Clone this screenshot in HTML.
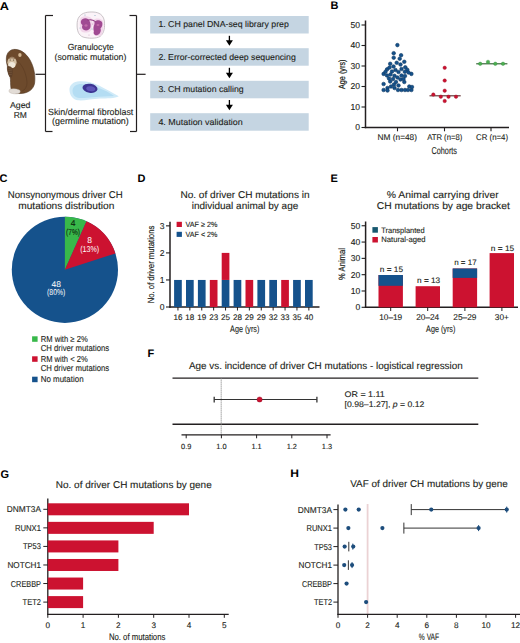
<!DOCTYPE html>
<html><head><meta charset="utf-8"><style>
html,body{margin:0;padding:0;background:#fff;}
body{width:520px;height:643px;overflow:hidden;}
svg{display:block;font-family:"Liberation Sans", sans-serif;text-rendering:geometricPrecision;}
</style></head><body>
<svg width="520" height="643" viewBox="0 0 520 643">
<rect width="520" height="643" fill="#fff"/>
<text x="-0.30" y="9.50" font-size="11.3" text-anchor="start" font-weight="bold" fill="#000" textLength="9.20" lengthAdjust="spacingAndGlyphs">A</text>
<line x1="45.50" y1="15.50" x2="45.50" y2="131.50" stroke="#231f20" stroke-width="1.2"/>
<line x1="45.50" y1="15.50" x2="53.00" y2="15.50" stroke="#231f20" stroke-width="1.2"/>
<line x1="45.50" y1="131.50" x2="52.50" y2="131.50" stroke="#231f20" stroke-width="1.2"/>
<line x1="136.50" y1="15.50" x2="136.50" y2="131.50" stroke="#231f20" stroke-width="1.2"/>
<line x1="129.50" y1="15.50" x2="136.50" y2="15.50" stroke="#231f20" stroke-width="1.2"/>
<line x1="130.00" y1="131.50" x2="136.50" y2="131.50" stroke="#231f20" stroke-width="1.2"/>
<line x1="35.50" y1="74.30" x2="45.50" y2="74.30" stroke="#231f20" stroke-width="1.2"/>
<line x1="136.50" y1="74.30" x2="145.60" y2="74.30" stroke="#231f20" stroke-width="1.2"/>
<g>
<path d="M13.7,49.4 C20,49 26,53 30,60 C34,67 35.6,76 34.6,83 C33.6,89 29,93 21,93.5 C16,93.8 12,92.5 11,88.5 C10.3,84 10.8,80 10.2,77.5 C8.3,74.5 7,70 7.4,66 C6.2,62.5 6,58.5 6.8,55.3 C8,51.5 10.5,49.8 13.7,49.4 Z" fill="#6d4a2c" stroke="#4e3420" stroke-width="0.6"/>
<path d="M16,60 C22,64 26,72 27,82 C27,87 25,90 22,91" fill="none" stroke="#5a3b22" stroke-width="0.6"/>
<ellipse cx="12" cy="62.3" rx="4.6" ry="5.5" fill="#d3bfa3"/>
<ellipse cx="11.8" cy="65" rx="3.4" ry="2.9" fill="#f0e8da"/>
<path d="M8.5,58.5 C10,57.5 14,57.5 15.6,58.7" stroke="#6d4a2c" stroke-width="0.8" fill="none"/>
<circle cx="10.2" cy="60" r="0.5" fill="#3a2a1a"/><circle cx="13.6" cy="60" r="0.5" fill="#3a2a1a"/>
<ellipse cx="19.9" cy="55" rx="1.7" ry="2.1" fill="#d3b894"/>
<path d="M7.6,66.5 C9.5,65.5 12,66.5 12.6,69.5 C13,72.5 12.6,76 11.4,77.5 C9.8,77.8 8.6,75 8,72 C7.5,70 7.2,68 7.6,66.5 Z" fill="#5e4029"/>
<path d="M8.5,68.5 L11.8,68 M8.4,70.5 L12,70 M8.6,72.5 L12,72.2 M9,74.5 L11.8,74.3" stroke="#8a6a4c" stroke-width="0.4"/>
<path d="M9.5,89.5 C12,88.2 16,88.5 19.5,90 C21,91.5 20,93.6 17,93.8 C14,94 11,93.5 9.6,92.4 C8.8,91.5 8.9,90.3 9.5,89.5 Z" fill="#e2dcd6" stroke="#b8aea4" stroke-width="0.4"/>
</g>
<text x="20.20" y="108.20" font-size="8.5" text-anchor="middle" fill="#231f20" textLength="20.50" lengthAdjust="spacingAndGlyphs" stroke="#231f20" stroke-width="0.12">Aged</text>
<text x="20.30" y="118.20" font-size="8.5" text-anchor="middle" fill="#231f20" textLength="13.20" lengthAdjust="spacingAndGlyphs" stroke="#231f20" stroke-width="0.12">RM</text>
<g>
<path d="M79,17 C82,12.5 88,11.8 93,12 C99,12.2 103.5,15 104.3,21 C105,27 104.5,33 100,36.5 C96,38.8 88,38.6 83,37 C78.5,35.2 77,30.5 77.1,25 C77.1,21.5 77.6,19 79,17 Z" fill="#fbf3f8" stroke="#bcb5ba" stroke-width="0.8"/>
<path d="M80.5,18 C83,15.5 90,15.5 92,19 C93,23 92,28 90.5,31 C88,33 83,33 81,31 C79.5,28 79.5,22 80.5,18 Z" fill="#f2d6ea"/>
<path d="M93,20 C96,17.5 101,18 103,21 C104,25 103.5,31 101.5,35 C99,37 95,36.5 93.5,34 C92.5,30 92.5,24 93,20 Z" fill="#f2d6ea"/>
<path d="M81,21 C82,18 86,17.5 88,19 C90,20.5 91,24 90.5,27 C90,30 86.5,31 84,30 C82,29 81.5,27 82.5,25 C81,24 80.5,22.5 81,21 Z" fill="#a04a92"/>
<path d="M94.5,22 C96,19.5 100,19.5 102,22 C103,24.5 102,27 100.5,28.5 C101.5,31 100,34.5 97,35.2 C94.5,35.5 93,33.5 94,31.5 C93,29 93.5,26 94.5,24 Z" fill="#a04a92"/>
<path d="M87.5,20.2 C90,19.4 93,19.8 95.5,21.6" fill="none" stroke="#8e3a80" stroke-width="1.1"/>
<ellipse cx="86" cy="25.5" rx="1.6" ry="1.2" fill="#c06aa8"/>
<ellipse cx="98" cy="25" rx="1.5" ry="1.1" fill="#c06aa8"/>
<circle cx="85" cy="15" r="0.6" fill="#8fb3c8"/><circle cx="95" cy="15.5" r="0.6" fill="#8fb3c8"/>
<circle cx="92" cy="29" r="0.6" fill="#8fb3c8"/><circle cx="80" cy="28" r="0.5" fill="#8fb3c8"/>
<circle cx="89" cy="35" r="0.5" fill="#c9a0bf"/><circle cx="92.5" cy="24" r="0.5" fill="#c9a0bf"/>
</g>
<text x="67.70" y="49.90" font-size="9.0" text-anchor="start" fill="#231f20" textLength="46.10" lengthAdjust="spacingAndGlyphs" stroke="#231f20" stroke-width="0.12">Granulocyte</text>
<text x="54.50" y="59.50" font-size="9.0" text-anchor="start" fill="#231f20" textLength="71.80" lengthAdjust="spacingAndGlyphs" stroke="#231f20" stroke-width="0.12">(somatic mutation)</text>
<g>
<path d="M69.5,90.5 C69,85 73.5,81.5 79.5,81.2 C87,81 93,82.5 99,85.5 C106,89 112,92.5 118.8,96.2 C115,98.5 107,98.3 100,98.5 C92,99 84,100.8 78,100.3 C73,99.8 69.8,95.5 69.5,90.5 Z" fill="#cfeaf8"/>
<path d="M72.5,91 C72.5,86.5 76.5,84 81.5,84 C89,84 96,86.5 103,89.8 C108,92 111.5,94 114,96 C108,96.5 100,96.6 93.5,97.2 C86.5,97.8 80,98.3 77,97.4 C74,96.4 72.5,94 72.5,91 Z" fill="#b4ddf3"/>
<ellipse cx="90" cy="88.3" rx="7.6" ry="4.5" fill="#3d3593" transform="rotate(10 90 88.3)"/>
<ellipse cx="90.8" cy="88.6" rx="4.6" ry="2.4" fill="#5e56b8" transform="rotate(10 90 88.3)"/>
</g>
<text x="48.00" y="115.40" font-size="9.0" text-anchor="start" fill="#231f20" textLength="85.30" lengthAdjust="spacingAndGlyphs" stroke="#231f20" stroke-width="0.12">Skin/dermal fibroblast</text>
<text x="52.00" y="124.30" font-size="9.0" text-anchor="start" fill="#231f20" textLength="76.80" lengthAdjust="spacingAndGlyphs" stroke="#231f20" stroke-width="0.12">(germline mutation)</text>
<rect x="150.20" y="16.00" width="158.50" height="17.50" fill="#c5d5e2"/>
<text x="158.40" y="27.30" font-size="8.6" text-anchor="start" fill="#231f20" textLength="130.40" lengthAdjust="spacingAndGlyphs" stroke="#231f20" stroke-width="0.12">1. CH panel DNA-seq library prep</text>
<rect x="150.20" y="48.20" width="158.50" height="17.50" fill="#c5d5e2"/>
<text x="158.40" y="59.50" font-size="8.6" text-anchor="start" fill="#231f20" textLength="137.40" lengthAdjust="spacingAndGlyphs" stroke="#231f20" stroke-width="0.12">2. Error-corrected deep sequencing</text>
<rect x="150.20" y="80.80" width="158.50" height="17.50" fill="#c5d5e2"/>
<text x="158.40" y="92.10" font-size="8.6" text-anchor="start" fill="#231f20" textLength="85.20" lengthAdjust="spacingAndGlyphs" stroke="#231f20" stroke-width="0.12">3. CH mutation calling</text>
<rect x="150.20" y="113.20" width="158.50" height="17.50" fill="#c5d5e2"/>
<text x="158.40" y="124.50" font-size="8.6" text-anchor="start" fill="#231f20" textLength="84.40" lengthAdjust="spacingAndGlyphs" stroke="#231f20" stroke-width="0.12">4. Mutation validation</text>
<line x1="229.40" y1="35.80" x2="229.40" y2="41.70" stroke="#000" stroke-width="1.3"/>
<path d="M225.9,40.20 L232.9,40.20 L229.4,45.70 Z" fill="#000"/>
<line x1="229.40" y1="67.80" x2="229.40" y2="74.20" stroke="#000" stroke-width="1.3"/>
<path d="M225.9,72.70 L232.9,72.70 L229.4,78.20 Z" fill="#000"/>
<line x1="229.40" y1="100.00" x2="229.40" y2="106.30" stroke="#000" stroke-width="1.3"/>
<path d="M225.9,104.80 L232.9,104.80 L229.4,110.30 Z" fill="#000"/>
<text x="330.40" y="9.30" font-size="11" text-anchor="start" font-weight="bold" fill="#000">B</text>
<line x1="365.50" y1="20.50" x2="365.50" y2="128.20" stroke="#231f20" stroke-width="1.5"/>
<line x1="364.80" y1="127.50" x2="509.00" y2="127.50" stroke="#231f20" stroke-width="1.5"/>
<line x1="361.50" y1="127.50" x2="365.50" y2="127.50" stroke="#231f20" stroke-width="1.1"/>
<text x="360.00" y="130.40" font-size="8.6" text-anchor="end" fill="#231f20" stroke="#231f20" stroke-width="0.12">0</text>
<line x1="361.50" y1="107.00" x2="365.50" y2="107.00" stroke="#231f20" stroke-width="1.1"/>
<text x="360.00" y="109.90" font-size="8.6" text-anchor="end" fill="#231f20" stroke="#231f20" stroke-width="0.12">10</text>
<line x1="361.50" y1="86.50" x2="365.50" y2="86.50" stroke="#231f20" stroke-width="1.1"/>
<text x="360.00" y="89.40" font-size="8.6" text-anchor="end" fill="#231f20" stroke="#231f20" stroke-width="0.12">20</text>
<line x1="361.50" y1="66.00" x2="365.50" y2="66.00" stroke="#231f20" stroke-width="1.1"/>
<text x="360.00" y="68.90" font-size="8.6" text-anchor="end" fill="#231f20" stroke="#231f20" stroke-width="0.12">30</text>
<line x1="361.50" y1="45.50" x2="365.50" y2="45.50" stroke="#231f20" stroke-width="1.1"/>
<text x="360.00" y="48.40" font-size="8.6" text-anchor="end" fill="#231f20" stroke="#231f20" stroke-width="0.12">40</text>
<line x1="361.50" y1="25.00" x2="365.50" y2="25.00" stroke="#231f20" stroke-width="1.1"/>
<text x="360.00" y="27.90" font-size="8.6" text-anchor="end" fill="#231f20" stroke="#231f20" stroke-width="0.12">50</text>
<line x1="397.50" y1="127.50" x2="397.50" y2="131.30" stroke="#231f20" stroke-width="1.1"/>
<line x1="444.50" y1="127.50" x2="444.50" y2="131.30" stroke="#231f20" stroke-width="1.1"/>
<line x1="491.00" y1="127.50" x2="491.00" y2="131.30" stroke="#231f20" stroke-width="1.1"/>
<text x="377.50" y="140.10" font-size="8.4" text-anchor="start" fill="#231f20" textLength="39.50" lengthAdjust="spacingAndGlyphs" stroke="#231f20" stroke-width="0.12">NM (n=48)</text>
<text x="427.20" y="140.10" font-size="8.4" text-anchor="start" fill="#231f20" textLength="35.10" lengthAdjust="spacingAndGlyphs" stroke="#231f20" stroke-width="0.12">ATR (n=8)</text>
<text x="476.10" y="140.10" font-size="8.4" text-anchor="start" fill="#231f20" textLength="31.90" lengthAdjust="spacingAndGlyphs" stroke="#231f20" stroke-width="0.12">CR (n=4)</text>
<text x="431.50" y="153.60" font-size="10" text-anchor="start" fill="#231f20" textLength="25.50" lengthAdjust="spacingAndGlyphs" stroke="#231f20" stroke-width="0.12">Cohorts</text>
<text transform="translate(344.8,74.3) rotate(-90)" font-size="9" stroke="#231f20" stroke-width="0.25" text-anchor="middle" fill="#231f20" textLength="29.5" lengthAdjust="spacingAndGlyphs">Age (yrs)</text>
<circle cx="397.40" cy="45.10" r="1.80" fill="#15528c" stroke="#0e3762" stroke-width="0.6"/>
<circle cx="393.70" cy="53.20" r="1.80" fill="#15528c" stroke="#0e3762" stroke-width="0.6"/>
<circle cx="401.10" cy="55.20" r="1.80" fill="#15528c" stroke="#0e3762" stroke-width="0.6"/>
<circle cx="393.70" cy="57.70" r="1.80" fill="#15528c" stroke="#0e3762" stroke-width="0.6"/>
<circle cx="399.70" cy="58.70" r="1.80" fill="#15528c" stroke="#0e3762" stroke-width="0.6"/>
<circle cx="404.30" cy="61.80" r="1.80" fill="#15528c" stroke="#0e3762" stroke-width="0.6"/>
<circle cx="390.20" cy="63.80" r="1.80" fill="#15528c" stroke="#0e3762" stroke-width="0.6"/>
<circle cx="396.70" cy="62.80" r="1.80" fill="#15528c" stroke="#0e3762" stroke-width="0.6"/>
<circle cx="387.10" cy="69.30" r="1.80" fill="#15528c" stroke="#0e3762" stroke-width="0.6"/>
<circle cx="405.30" cy="67.30" r="1.80" fill="#15528c" stroke="#0e3762" stroke-width="0.6"/>
<circle cx="407.30" cy="69.80" r="1.80" fill="#15528c" stroke="#0e3762" stroke-width="0.6"/>
<circle cx="383.60" cy="73.90" r="1.80" fill="#15528c" stroke="#0e3762" stroke-width="0.6"/>
<circle cx="411.40" cy="73.90" r="1.80" fill="#15528c" stroke="#0e3762" stroke-width="0.6"/>
<circle cx="383.60" cy="84.00" r="1.80" fill="#15528c" stroke="#0e3762" stroke-width="0.6"/>
<circle cx="390.20" cy="81.50" r="1.80" fill="#15528c" stroke="#0e3762" stroke-width="0.6"/>
<circle cx="404.30" cy="82.00" r="1.80" fill="#15528c" stroke="#0e3762" stroke-width="0.6"/>
<circle cx="383.60" cy="90.00" r="1.80" fill="#15528c" stroke="#0e3762" stroke-width="0.6"/>
<circle cx="409.30" cy="86.50" r="1.80" fill="#15528c" stroke="#0e3762" stroke-width="0.6"/>
<circle cx="411.40" cy="90.00" r="1.80" fill="#15528c" stroke="#0e3762" stroke-width="0.6"/>
<circle cx="400.50" cy="64.50" r="1.80" fill="#15528c" stroke="#0e3762" stroke-width="0.6"/>
<circle cx="393.50" cy="66.50" r="1.80" fill="#15528c" stroke="#0e3762" stroke-width="0.6"/>
<circle cx="389.50" cy="67.50" r="1.80" fill="#15528c" stroke="#0e3762" stroke-width="0.6"/>
<circle cx="401.50" cy="69.00" r="1.80" fill="#15528c" stroke="#0e3762" stroke-width="0.6"/>
<circle cx="385.50" cy="71.80" r="1.80" fill="#15528c" stroke="#0e3762" stroke-width="0.6"/>
<circle cx="392.00" cy="71.50" r="1.80" fill="#15528c" stroke="#0e3762" stroke-width="0.6"/>
<circle cx="395.50" cy="70.00" r="1.80" fill="#15528c" stroke="#0e3762" stroke-width="0.6"/>
<circle cx="398.50" cy="72.00" r="1.80" fill="#15528c" stroke="#0e3762" stroke-width="0.6"/>
<circle cx="404.80" cy="71.80" r="1.80" fill="#15528c" stroke="#0e3762" stroke-width="0.6"/>
<circle cx="408.50" cy="72.50" r="1.80" fill="#15528c" stroke="#0e3762" stroke-width="0.6"/>
<circle cx="387.00" cy="75.50" r="1.80" fill="#15528c" stroke="#0e3762" stroke-width="0.6"/>
<circle cx="390.50" cy="74.50" r="1.80" fill="#15528c" stroke="#0e3762" stroke-width="0.6"/>
<circle cx="394.50" cy="75.80" r="1.80" fill="#15528c" stroke="#0e3762" stroke-width="0.6"/>
<circle cx="401.50" cy="75.50" r="1.80" fill="#15528c" stroke="#0e3762" stroke-width="0.6"/>
<circle cx="405.00" cy="76.00" r="1.80" fill="#15528c" stroke="#0e3762" stroke-width="0.6"/>
<circle cx="389.00" cy="78.50" r="1.80" fill="#15528c" stroke="#0e3762" stroke-width="0.6"/>
<circle cx="393.00" cy="79.00" r="1.80" fill="#15528c" stroke="#0e3762" stroke-width="0.6"/>
<circle cx="397.50" cy="77.50" r="1.80" fill="#15528c" stroke="#0e3762" stroke-width="0.6"/>
<circle cx="400.50" cy="79.50" r="1.80" fill="#15528c" stroke="#0e3762" stroke-width="0.6"/>
<circle cx="403.50" cy="79.00" r="1.80" fill="#15528c" stroke="#0e3762" stroke-width="0.6"/>
<circle cx="396.00" cy="82.00" r="1.80" fill="#15528c" stroke="#0e3762" stroke-width="0.6"/>
<circle cx="387.50" cy="88.00" r="1.80" fill="#15528c" stroke="#0e3762" stroke-width="0.6"/>
<circle cx="391.00" cy="86.50" r="1.80" fill="#15528c" stroke="#0e3762" stroke-width="0.6"/>
<circle cx="394.50" cy="88.00" r="1.80" fill="#15528c" stroke="#0e3762" stroke-width="0.6"/>
<circle cx="398.00" cy="90.00" r="1.80" fill="#15528c" stroke="#0e3762" stroke-width="0.6"/>
<circle cx="401.50" cy="90.00" r="1.80" fill="#15528c" stroke="#0e3762" stroke-width="0.6"/>
<circle cx="405.00" cy="90.00" r="1.80" fill="#15528c" stroke="#0e3762" stroke-width="0.6"/>
<circle cx="408.00" cy="90.00" r="1.80" fill="#15528c" stroke="#0e3762" stroke-width="0.6"/>
<circle cx="387.50" cy="90.50" r="1.80" fill="#15528c" stroke="#0e3762" stroke-width="0.6"/>
<circle cx="394.00" cy="84.50" r="1.80" fill="#15528c" stroke="#0e3762" stroke-width="0.6"/>
<circle cx="398.50" cy="85.50" r="1.80" fill="#15528c" stroke="#0e3762" stroke-width="0.6"/>
<circle cx="412.00" cy="87.00" r="1.80" fill="#15528c" stroke="#0e3762" stroke-width="0.6"/>
<line x1="429.50" y1="95.80" x2="460.70" y2="95.80" stroke="#5a2a2a" stroke-width="1.1"/>
<circle cx="444.70" cy="67.80" r="1.75" fill="#cc1230" stroke="#9a0c24" stroke-width="0.4"/>
<circle cx="444.70" cy="80.60" r="1.75" fill="#cc1230" stroke="#9a0c24" stroke-width="0.4"/>
<circle cx="444.70" cy="90.70" r="1.75" fill="#cc1230" stroke="#9a0c24" stroke-width="0.4"/>
<circle cx="433.30" cy="94.60" r="1.75" fill="#cc1230" stroke="#9a0c24" stroke-width="0.4"/>
<circle cx="440.80" cy="96.70" r="1.75" fill="#cc1230" stroke="#9a0c24" stroke-width="0.4"/>
<circle cx="448.50" cy="96.70" r="1.75" fill="#cc1230" stroke="#9a0c24" stroke-width="0.4"/>
<circle cx="456.00" cy="96.70" r="1.75" fill="#cc1230" stroke="#9a0c24" stroke-width="0.4"/>
<circle cx="444.70" cy="101.00" r="1.75" fill="#cc1230" stroke="#9a0c24" stroke-width="0.4"/>
<line x1="476.20" y1="63.80" x2="507.40" y2="63.80" stroke="#2a5a2a" stroke-width="1.1"/>
<circle cx="480.20" cy="63.80" r="1.75" fill="#4caf50" stroke="#2e8b3a" stroke-width="0.4"/>
<circle cx="488.00" cy="61.90" r="1.75" fill="#4caf50" stroke="#2e8b3a" stroke-width="0.4"/>
<circle cx="495.30" cy="63.80" r="1.75" fill="#4caf50" stroke="#2e8b3a" stroke-width="0.4"/>
<circle cx="503.00" cy="63.80" r="1.75" fill="#4caf50" stroke="#2e8b3a" stroke-width="0.4"/>
<text x="-0.60" y="181.80" font-size="11" text-anchor="start" font-weight="bold" fill="#000">C</text>
<text x="7.80" y="197.80" font-size="9.9" text-anchor="start" fill="#231f20" textLength="114.90" lengthAdjust="spacingAndGlyphs" stroke="#231f20" stroke-width="0.12">Nonsynonymous driver CH</text>
<text x="18.20" y="209.00" font-size="9.9" text-anchor="start" fill="#231f20" textLength="96.10" lengthAdjust="spacingAndGlyphs" stroke="#231f20" stroke-width="0.12">mutations distribution</text>
<circle cx="64.9" cy="269.8" r="53.1" fill="#15528c"/>
<path d="M64.9,269.8 L64.9,216.70000000000002 A53.1,53.1 0 0 1 86.50,221.29 Z" fill="#38b84a"/>
<path d="M64.9,269.8 L86.50,221.29 A53.1,53.1 0 0 1 115.40,253.39 Z" fill="#cc1230"/>
<text x="73.00" y="225.70" font-size="8.5" text-anchor="middle" fill="#0d2a0d" stroke="#0d2a0d" stroke-width="0.12">4</text>
<text x="73.00" y="234.50" font-size="8.5" text-anchor="middle" fill="#0d2a0d" textLength="13.80" lengthAdjust="spacingAndGlyphs" stroke="#0d2a0d" stroke-width="0.12">(7%)</text>
<text x="89.60" y="242.80" font-size="8.5" text-anchor="middle" fill="#fff">8</text>
<text x="89.60" y="252.30" font-size="8.5" text-anchor="middle" fill="#fff" textLength="18.90" lengthAdjust="spacingAndGlyphs">(13%)</text>
<text x="56.20" y="286.60" font-size="8.5" text-anchor="middle" fill="#fff">48</text>
<text x="56.20" y="294.80" font-size="8.5" text-anchor="middle" fill="#fff" textLength="18.20" lengthAdjust="spacingAndGlyphs">(80%)</text>
<rect x="32.10" y="336.30" width="5.50" height="5.50" fill="#38b84a"/>
<rect x="32.10" y="356.30" width="5.50" height="5.50" fill="#cc1230"/>
<rect x="32.10" y="376.70" width="5.50" height="5.50" fill="#15528c"/>
<text x="40.70" y="342.30" font-size="8.7" text-anchor="start" fill="#231f20" textLength="47.00" lengthAdjust="spacingAndGlyphs" stroke="#231f20" stroke-width="0.12">RM with ≥ 2%</text>
<text x="40.70" y="350.90" font-size="8.7" text-anchor="start" fill="#231f20" textLength="68.50" lengthAdjust="spacingAndGlyphs" stroke="#231f20" stroke-width="0.12">CH driver mutations</text>
<text x="40.70" y="361.90" font-size="8.7" text-anchor="start" fill="#231f20" textLength="47.00" lengthAdjust="spacingAndGlyphs" stroke="#231f20" stroke-width="0.12">RM with &lt; 2%</text>
<text x="40.70" y="370.90" font-size="8.7" text-anchor="start" fill="#231f20" textLength="68.50" lengthAdjust="spacingAndGlyphs" stroke="#231f20" stroke-width="0.12">CH driver mutations</text>
<text x="40.70" y="381.50" font-size="8.7" text-anchor="start" fill="#231f20" textLength="42.90" lengthAdjust="spacingAndGlyphs" stroke="#231f20" stroke-width="0.12">No mutation</text>
<text x="137.40" y="182.30" font-size="11" text-anchor="start" font-weight="bold" fill="#000">D</text>
<text x="180.40" y="197.50" font-size="9.9" text-anchor="start" fill="#231f20" textLength="129.20" lengthAdjust="spacingAndGlyphs" stroke="#231f20" stroke-width="0.12">No. of driver CH mutations in</text>
<text x="191.70" y="208.80" font-size="9.9" text-anchor="start" fill="#231f20" textLength="106.60" lengthAdjust="spacingAndGlyphs" stroke="#231f20" stroke-width="0.12">individual animal by age</text>
<rect x="176.60" y="221.80" width="5.30" height="5.20" fill="#cc1230"/>
<rect x="176.60" y="231.80" width="5.30" height="5.10" fill="#15528c"/>
<text x="185.50" y="226.80" font-size="7.6" text-anchor="start" fill="#231f20" textLength="31.90" lengthAdjust="spacingAndGlyphs" stroke="#231f20" stroke-width="0.12">VAF ≥ 2%</text>
<text x="185.50" y="236.90" font-size="7.6" text-anchor="start" fill="#231f20" textLength="31.90" lengthAdjust="spacingAndGlyphs" stroke="#231f20" stroke-width="0.12">VAF &lt; 2%</text>
<line x1="170.00" y1="221.80" x2="170.00" y2="307.70" stroke="#231f20" stroke-width="1.5"/>
<line x1="169.30" y1="307.00" x2="319.50" y2="307.00" stroke="#231f20" stroke-width="1.5"/>
<line x1="166.00" y1="307.00" x2="170.00" y2="307.00" stroke="#231f20" stroke-width="1.1"/>
<text x="164.50" y="309.90" font-size="8.6" text-anchor="end" fill="#231f20" stroke="#231f20" stroke-width="0.12">0</text>
<line x1="166.00" y1="279.95" x2="170.00" y2="279.95" stroke="#231f20" stroke-width="1.1"/>
<text x="164.50" y="282.85" font-size="8.6" text-anchor="end" fill="#231f20" stroke="#231f20" stroke-width="0.12">1</text>
<line x1="166.00" y1="252.90" x2="170.00" y2="252.90" stroke="#231f20" stroke-width="1.1"/>
<text x="164.50" y="255.80" font-size="8.6" text-anchor="end" fill="#231f20" stroke="#231f20" stroke-width="0.12">2</text>
<line x1="166.00" y1="225.85" x2="170.00" y2="225.85" stroke="#231f20" stroke-width="1.1"/>
<text x="164.50" y="228.75" font-size="8.6" text-anchor="end" fill="#231f20" stroke="#231f20" stroke-width="0.12">3</text>
<rect x="174.10" y="279.95" width="7.70" height="27.05" fill="#15528c"/>
<line x1="177.95" y1="307.00" x2="177.95" y2="310.50" stroke="#231f20" stroke-width="1.0"/>
<text x="177.95" y="319.70" font-size="8.1" text-anchor="middle" fill="#231f20" stroke="#231f20" stroke-width="0.12">16</text>
<rect x="186.00" y="279.95" width="7.70" height="27.05" fill="#15528c"/>
<line x1="189.85" y1="307.00" x2="189.85" y2="310.50" stroke="#231f20" stroke-width="1.0"/>
<text x="189.85" y="319.70" font-size="8.1" text-anchor="middle" fill="#231f20" stroke="#231f20" stroke-width="0.12">18</text>
<rect x="197.90" y="279.95" width="7.70" height="27.05" fill="#15528c"/>
<line x1="201.75" y1="307.00" x2="201.75" y2="310.50" stroke="#231f20" stroke-width="1.0"/>
<text x="201.75" y="319.70" font-size="8.1" text-anchor="middle" fill="#231f20" stroke="#231f20" stroke-width="0.12">19</text>
<rect x="209.80" y="279.95" width="7.70" height="27.05" fill="#cc1230"/>
<line x1="213.65" y1="307.00" x2="213.65" y2="310.50" stroke="#231f20" stroke-width="1.0"/>
<text x="213.65" y="319.70" font-size="8.1" text-anchor="middle" fill="#231f20" stroke="#231f20" stroke-width="0.12">23</text>
<rect x="221.70" y="279.95" width="7.70" height="27.05" fill="#15528c"/>
<rect x="221.70" y="252.90" width="7.70" height="27.05" fill="#cc1230"/>
<line x1="225.55" y1="307.00" x2="225.55" y2="310.50" stroke="#231f20" stroke-width="1.0"/>
<text x="225.55" y="319.70" font-size="8.1" text-anchor="middle" fill="#231f20" stroke="#231f20" stroke-width="0.12">25</text>
<rect x="233.60" y="279.95" width="7.70" height="27.05" fill="#15528c"/>
<line x1="237.45" y1="307.00" x2="237.45" y2="310.50" stroke="#231f20" stroke-width="1.0"/>
<text x="237.45" y="319.70" font-size="8.1" text-anchor="middle" fill="#231f20" stroke="#231f20" stroke-width="0.12">28</text>
<rect x="245.50" y="279.95" width="7.70" height="27.05" fill="#cc1230"/>
<line x1="249.35" y1="307.00" x2="249.35" y2="310.50" stroke="#231f20" stroke-width="1.0"/>
<text x="249.35" y="319.70" font-size="8.1" text-anchor="middle" fill="#231f20" stroke="#231f20" stroke-width="0.12">29</text>
<rect x="257.40" y="279.95" width="7.70" height="27.05" fill="#15528c"/>
<line x1="261.25" y1="307.00" x2="261.25" y2="310.50" stroke="#231f20" stroke-width="1.0"/>
<text x="261.25" y="319.70" font-size="8.1" text-anchor="middle" fill="#231f20" stroke="#231f20" stroke-width="0.12">29</text>
<rect x="269.30" y="279.95" width="7.70" height="27.05" fill="#15528c"/>
<line x1="273.15" y1="307.00" x2="273.15" y2="310.50" stroke="#231f20" stroke-width="1.0"/>
<text x="273.15" y="319.70" font-size="8.1" text-anchor="middle" fill="#231f20" stroke="#231f20" stroke-width="0.12">32</text>
<rect x="281.20" y="279.95" width="7.70" height="27.05" fill="#cc1230"/>
<line x1="285.05" y1="307.00" x2="285.05" y2="310.50" stroke="#231f20" stroke-width="1.0"/>
<text x="285.05" y="319.70" font-size="8.1" text-anchor="middle" fill="#231f20" stroke="#231f20" stroke-width="0.12">33</text>
<rect x="293.10" y="279.95" width="7.70" height="27.05" fill="#15528c"/>
<line x1="296.95" y1="307.00" x2="296.95" y2="310.50" stroke="#231f20" stroke-width="1.0"/>
<text x="296.95" y="319.70" font-size="8.1" text-anchor="middle" fill="#231f20" stroke="#231f20" stroke-width="0.12">35</text>
<rect x="305.00" y="279.95" width="7.70" height="27.05" fill="#15528c"/>
<line x1="308.85" y1="307.00" x2="308.85" y2="310.50" stroke="#231f20" stroke-width="1.0"/>
<text x="308.85" y="319.70" font-size="8.1" text-anchor="middle" fill="#231f20" stroke="#231f20" stroke-width="0.12">40</text>
<text x="230.10" y="332.30" font-size="9.3" text-anchor="start" fill="#231f20" textLength="29.30" lengthAdjust="spacingAndGlyphs" stroke="#231f20" stroke-width="0.12">Age (yrs)</text>
<text transform="translate(153.9,264.5) rotate(-90)" font-size="9" stroke="#231f20" stroke-width="0.2" text-anchor="middle" fill="#231f20" textLength="77.6" lengthAdjust="spacingAndGlyphs">No. of driver mutations</text>
<text x="330.40" y="182.30" font-size="11" text-anchor="start" font-weight="bold" fill="#000">E</text>
<text x="386.80" y="197.50" font-size="9.9" text-anchor="start" fill="#231f20" textLength="112.00" lengthAdjust="spacingAndGlyphs" stroke="#231f20" stroke-width="0.12">% Animal carrying driver</text>
<text x="376.80" y="208.80" font-size="9.9" text-anchor="start" fill="#231f20" textLength="133.00" lengthAdjust="spacingAndGlyphs" stroke="#231f20" stroke-width="0.12">CH mutations by age bracket</text>
<line x1="365.60" y1="221.50" x2="365.60" y2="308.00" stroke="#231f20" stroke-width="1.5"/>
<line x1="364.90" y1="307.30" x2="518.00" y2="307.30" stroke="#231f20" stroke-width="1.5"/>
<line x1="361.60" y1="307.30" x2="365.60" y2="307.30" stroke="#231f20" stroke-width="1.1"/>
<text x="360.30" y="310.20" font-size="8.6" text-anchor="end" fill="#231f20" stroke="#231f20" stroke-width="0.12">0</text>
<line x1="361.60" y1="290.99" x2="365.60" y2="290.99" stroke="#231f20" stroke-width="1.1"/>
<text x="360.30" y="293.89" font-size="8.6" text-anchor="end" fill="#231f20" stroke="#231f20" stroke-width="0.12">10</text>
<line x1="361.60" y1="274.68" x2="365.60" y2="274.68" stroke="#231f20" stroke-width="1.1"/>
<text x="360.30" y="277.58" font-size="8.6" text-anchor="end" fill="#231f20" stroke="#231f20" stroke-width="0.12">20</text>
<line x1="361.60" y1="258.37" x2="365.60" y2="258.37" stroke="#231f20" stroke-width="1.1"/>
<text x="360.30" y="261.27" font-size="8.6" text-anchor="end" fill="#231f20" stroke="#231f20" stroke-width="0.12">30</text>
<line x1="361.60" y1="242.06" x2="365.60" y2="242.06" stroke="#231f20" stroke-width="1.1"/>
<text x="360.30" y="244.96" font-size="8.6" text-anchor="end" fill="#231f20" stroke="#231f20" stroke-width="0.12">40</text>
<line x1="361.60" y1="225.75" x2="365.60" y2="225.75" stroke="#231f20" stroke-width="1.1"/>
<text x="360.30" y="228.65" font-size="8.6" text-anchor="end" fill="#231f20" stroke="#231f20" stroke-width="0.12">50</text>
<rect x="372.40" y="227.10" width="5.50" height="5.60" fill="#17586f"/>
<rect x="372.40" y="237.00" width="5.50" height="5.50" fill="#cc1230"/>
<text x="381.30" y="232.70" font-size="7.8" text-anchor="start" fill="#231f20" textLength="43.30" lengthAdjust="spacingAndGlyphs" stroke="#231f20" stroke-width="0.12">Transplanted</text>
<text x="381.30" y="242.30" font-size="7.8" text-anchor="start" fill="#231f20" textLength="44.30" lengthAdjust="spacingAndGlyphs" stroke="#231f20" stroke-width="0.12">Natural-aged</text>
<rect x="378.50" y="275.00" width="24.40" height="32.30" fill="#cc1230"/>
<rect x="378.50" y="275.00" width="24.40" height="10.80" fill="#15528c"/>
<rect x="415.60" y="286.20" width="24.40" height="21.10" fill="#cc1230"/>
<rect x="452.70" y="268.50" width="24.40" height="38.80" fill="#cc1230"/>
<rect x="452.70" y="268.50" width="24.40" height="9.40" fill="#15528c"/>
<rect x="489.60" y="253.10" width="24.40" height="54.20" fill="#cc1230"/>
<text x="379.80" y="272.30" font-size="8" text-anchor="start" fill="#231f20" textLength="23.20" lengthAdjust="spacingAndGlyphs" stroke="#231f20" stroke-width="0.12">n = 15</text>
<text x="417.00" y="283.30" font-size="8" text-anchor="start" fill="#231f20" textLength="23.20" lengthAdjust="spacingAndGlyphs" stroke="#231f20" stroke-width="0.12">n = 13</text>
<text x="454.20" y="265.40" font-size="8" text-anchor="start" fill="#231f20" textLength="22.50" lengthAdjust="spacingAndGlyphs" stroke="#231f20" stroke-width="0.12">n = 17</text>
<text x="490.80" y="250.60" font-size="8" text-anchor="start" fill="#231f20" textLength="23.40" lengthAdjust="spacingAndGlyphs" stroke="#231f20" stroke-width="0.12">n = 15</text>
<line x1="390.70" y1="307.30" x2="390.70" y2="311.00" stroke="#231f20" stroke-width="1.0"/>
<text x="390.70" y="319.60" font-size="8.3" text-anchor="middle" fill="#231f20" stroke="#231f20" stroke-width="0.12">10–19</text>
<line x1="427.70" y1="307.30" x2="427.70" y2="311.00" stroke="#231f20" stroke-width="1.0"/>
<text x="427.70" y="319.60" font-size="8.3" text-anchor="middle" fill="#231f20" stroke="#231f20" stroke-width="0.12">20–24</text>
<line x1="464.90" y1="307.30" x2="464.90" y2="311.00" stroke="#231f20" stroke-width="1.0"/>
<text x="464.90" y="319.60" font-size="8.3" text-anchor="middle" fill="#231f20" stroke="#231f20" stroke-width="0.12">25–29</text>
<line x1="501.90" y1="307.30" x2="501.90" y2="311.00" stroke="#231f20" stroke-width="1.0"/>
<text x="501.90" y="319.60" font-size="8.3" text-anchor="middle" fill="#231f20" stroke="#231f20" stroke-width="0.12">30+</text>
<text x="426.10" y="331.60" font-size="9.3" text-anchor="start" fill="#231f20" textLength="29.30" lengthAdjust="spacingAndGlyphs" stroke="#231f20" stroke-width="0.12">Age (yrs)</text>
<text transform="translate(344.6,264) rotate(-90)" font-size="9.2" stroke="#231f20" stroke-width="0.2" text-anchor="middle" fill="#231f20" textLength="31.8" lengthAdjust="spacingAndGlyphs">% Animal</text>
<text x="147.40" y="357.30" font-size="11" text-anchor="start" font-weight="bold" fill="#000">F</text>
<text x="189.00" y="368.80" font-size="9.9" text-anchor="start" fill="#231f20" textLength="273.70" lengthAdjust="spacingAndGlyphs" stroke="#231f20" stroke-width="0.12">Age vs. incidence of driver CH mutations - logistical regression</text>
<line x1="172.50" y1="378.10" x2="478.30" y2="378.10" stroke="#231f20" stroke-width="1.4"/>
<line x1="172.50" y1="424.20" x2="478.30" y2="424.20" stroke="#231f20" stroke-width="1.4"/>
<line x1="221.20" y1="378.10" x2="221.20" y2="434.80" stroke="#8a8a8a" stroke-width="0.8" stroke-dasharray="1.5,0.5"/>
<line x1="214.20" y1="399.50" x2="316.90" y2="399.50" stroke="#333" stroke-width="1.0"/>
<line x1="214.20" y1="396.80" x2="214.20" y2="402.40" stroke="#333" stroke-width="1.3"/>
<line x1="316.90" y1="396.80" x2="316.90" y2="402.40" stroke="#333" stroke-width="1.3"/>
<circle cx="259.60" cy="399.50" r="2.60" fill="#cc1230" stroke="#8a0a20" stroke-width="0.4"/>
<text x="344.60" y="396.50" font-size="8.2" text-anchor="start" fill="#231f20" textLength="40.20" lengthAdjust="spacingAndGlyphs" stroke="#231f20" stroke-width="0.12">OR = 1.11</text>
<text x="344.6" y="407.3" font-size="8.2" fill="#231f20" stroke="#231f20" stroke-width="0.12" textLength="79.8" lengthAdjust="spacingAndGlyphs">[0.98–1.27], <tspan font-style="italic">p</tspan> = 0.12</text>
<line x1="181.50" y1="434.80" x2="330.60" y2="434.80" stroke="#231f20" stroke-width="1.3"/>
<line x1="186.20" y1="434.80" x2="186.20" y2="438.30" stroke="#231f20" stroke-width="1.0"/>
<text x="186.20" y="448.50" font-size="7.4" text-anchor="middle" fill="#231f20" stroke="#231f20" stroke-width="0.12">0.9</text>
<line x1="221.40" y1="434.80" x2="221.40" y2="438.30" stroke="#231f20" stroke-width="1.0"/>
<text x="221.40" y="448.50" font-size="7.4" text-anchor="middle" fill="#231f20" stroke="#231f20" stroke-width="0.12">1.0</text>
<line x1="256.60" y1="434.80" x2="256.60" y2="438.30" stroke="#231f20" stroke-width="1.0"/>
<text x="256.60" y="448.50" font-size="7.4" text-anchor="middle" fill="#231f20" stroke="#231f20" stroke-width="0.12">1.1</text>
<line x1="291.80" y1="434.80" x2="291.80" y2="438.30" stroke="#231f20" stroke-width="1.0"/>
<text x="291.80" y="448.50" font-size="7.4" text-anchor="middle" fill="#231f20" stroke="#231f20" stroke-width="0.12">1.2</text>
<line x1="327.00" y1="434.80" x2="327.00" y2="438.30" stroke="#231f20" stroke-width="1.0"/>
<text x="327.00" y="448.50" font-size="7.4" text-anchor="middle" fill="#231f20" stroke="#231f20" stroke-width="0.12">1.3</text>
<text x="0.40" y="477.70" font-size="11" text-anchor="start" font-weight="bold" fill="#000">G</text>
<text x="55.80" y="487.90" font-size="9.9" text-anchor="start" fill="#231f20" textLength="155.90" lengthAdjust="spacingAndGlyphs" stroke="#231f20" stroke-width="0.12">No. of driver CH mutations by gene</text>
<line x1="47.80" y1="498.50" x2="47.80" y2="614.90" stroke="#231f20" stroke-width="1.3"/>
<line x1="47.30" y1="614.30" x2="228.70" y2="614.30" stroke="#231f20" stroke-width="1.3"/>
<rect x="47.80" y="503.30" width="141.20" height="12.00" fill="#cc1230"/>
<line x1="43.30" y1="509.30" x2="47.80" y2="509.30" stroke="#231f20" stroke-width="1.0"/>
<text x="6.70" y="512.30" font-size="8.5" text-anchor="start" fill="#231f20" textLength="34.30" lengthAdjust="spacingAndGlyphs" stroke="#231f20" stroke-width="0.12">DNMT3A</text>
<rect x="47.80" y="521.86" width="105.90" height="12.00" fill="#cc1230"/>
<line x1="43.30" y1="527.86" x2="47.80" y2="527.86" stroke="#231f20" stroke-width="1.0"/>
<text x="15.00" y="530.86" font-size="8.5" text-anchor="start" fill="#231f20" textLength="26.00" lengthAdjust="spacingAndGlyphs" stroke="#231f20" stroke-width="0.12">RUNX1</text>
<rect x="47.80" y="540.42" width="70.60" height="12.00" fill="#cc1230"/>
<line x1="43.30" y1="546.42" x2="47.80" y2="546.42" stroke="#231f20" stroke-width="1.0"/>
<text x="23.00" y="549.42" font-size="8.5" text-anchor="start" fill="#231f20" textLength="18.00" lengthAdjust="spacingAndGlyphs" stroke="#231f20" stroke-width="0.12">TP53</text>
<rect x="47.80" y="558.98" width="70.60" height="12.00" fill="#cc1230"/>
<line x1="43.30" y1="564.98" x2="47.80" y2="564.98" stroke="#231f20" stroke-width="1.0"/>
<text x="7.40" y="567.98" font-size="8.5" text-anchor="start" fill="#231f20" textLength="33.60" lengthAdjust="spacingAndGlyphs" stroke="#231f20" stroke-width="0.12">NOTCH1</text>
<rect x="47.80" y="577.54" width="35.30" height="12.00" fill="#cc1230"/>
<line x1="43.30" y1="583.54" x2="47.80" y2="583.54" stroke="#231f20" stroke-width="1.0"/>
<text x="10.80" y="586.54" font-size="8.5" text-anchor="start" fill="#231f20" textLength="30.20" lengthAdjust="spacingAndGlyphs" stroke="#231f20" stroke-width="0.12">CREBBP</text>
<rect x="47.80" y="596.10" width="35.30" height="12.00" fill="#cc1230"/>
<line x1="43.30" y1="602.10" x2="47.80" y2="602.10" stroke="#231f20" stroke-width="1.0"/>
<text x="22.60" y="605.10" font-size="8.5" text-anchor="start" fill="#231f20" textLength="18.40" lengthAdjust="spacingAndGlyphs" stroke="#231f20" stroke-width="0.12">TET2</text>
<line x1="47.80" y1="614.30" x2="47.80" y2="617.80" stroke="#231f20" stroke-width="1.0"/>
<text x="47.80" y="627.50" font-size="8.2" text-anchor="middle" fill="#231f20" stroke="#231f20" stroke-width="0.12">0</text>
<line x1="83.10" y1="614.30" x2="83.10" y2="617.80" stroke="#231f20" stroke-width="1.0"/>
<text x="83.10" y="627.50" font-size="8.2" text-anchor="middle" fill="#231f20" stroke="#231f20" stroke-width="0.12">1</text>
<line x1="118.40" y1="614.30" x2="118.40" y2="617.80" stroke="#231f20" stroke-width="1.0"/>
<text x="118.40" y="627.50" font-size="8.2" text-anchor="middle" fill="#231f20" stroke="#231f20" stroke-width="0.12">2</text>
<line x1="153.70" y1="614.30" x2="153.70" y2="617.80" stroke="#231f20" stroke-width="1.0"/>
<text x="153.70" y="627.50" font-size="8.2" text-anchor="middle" fill="#231f20" stroke="#231f20" stroke-width="0.12">3</text>
<line x1="189.00" y1="614.30" x2="189.00" y2="617.80" stroke="#231f20" stroke-width="1.0"/>
<text x="189.00" y="627.50" font-size="8.2" text-anchor="middle" fill="#231f20" stroke="#231f20" stroke-width="0.12">4</text>
<line x1="224.30" y1="614.30" x2="224.30" y2="617.80" stroke="#231f20" stroke-width="1.0"/>
<text x="224.30" y="627.50" font-size="8.2" text-anchor="middle" fill="#231f20" stroke="#231f20" stroke-width="0.12">5</text>
<text x="108.90" y="639.90" font-size="9.3" text-anchor="start" fill="#231f20" textLength="56.50" lengthAdjust="spacingAndGlyphs" stroke="#231f20" stroke-width="0.12">No. of mutations</text>
<text x="290.30" y="477.40" font-size="11" text-anchor="start" font-weight="bold" fill="#000" textLength="8.70" lengthAdjust="spacingAndGlyphs">H</text>
<text x="350.20" y="487.20" font-size="9.9" text-anchor="start" fill="#231f20" textLength="157.70" lengthAdjust="spacingAndGlyphs" stroke="#231f20" stroke-width="0.12">VAF of driver CH mutations by gene</text>
<line x1="367.60" y1="504.00" x2="367.60" y2="614.00" stroke="#ebd2d4" stroke-width="1.8"/>
<line x1="338.00" y1="504.40" x2="338.00" y2="614.90" stroke="#231f20" stroke-width="1.3"/>
<line x1="337.50" y1="614.30" x2="520.00" y2="614.30" stroke="#231f20" stroke-width="1.3"/>
<line x1="333.40" y1="509.60" x2="338.00" y2="509.60" stroke="#231f20" stroke-width="1.0"/>
<text x="297.70" y="512.60" font-size="8.5" text-anchor="start" fill="#231f20" textLength="34.30" lengthAdjust="spacingAndGlyphs" stroke="#231f20" stroke-width="0.12">DNMT3A</text>
<line x1="333.40" y1="528.10" x2="338.00" y2="528.10" stroke="#231f20" stroke-width="1.0"/>
<text x="306.50" y="531.10" font-size="8.5" text-anchor="start" fill="#231f20" textLength="25.50" lengthAdjust="spacingAndGlyphs" stroke="#231f20" stroke-width="0.12">RUNX1</text>
<line x1="333.40" y1="546.60" x2="338.00" y2="546.60" stroke="#231f20" stroke-width="1.0"/>
<text x="314.20" y="549.60" font-size="8.5" text-anchor="start" fill="#231f20" textLength="17.80" lengthAdjust="spacingAndGlyphs" stroke="#231f20" stroke-width="0.12">TP53</text>
<line x1="333.40" y1="565.10" x2="338.00" y2="565.10" stroke="#231f20" stroke-width="1.0"/>
<text x="298.50" y="568.10" font-size="8.5" text-anchor="start" fill="#231f20" textLength="33.50" lengthAdjust="spacingAndGlyphs" stroke="#231f20" stroke-width="0.12">NOTCH1</text>
<line x1="333.40" y1="583.60" x2="338.00" y2="583.60" stroke="#231f20" stroke-width="1.0"/>
<text x="301.90" y="586.60" font-size="8.5" text-anchor="start" fill="#231f20" textLength="30.10" lengthAdjust="spacingAndGlyphs" stroke="#231f20" stroke-width="0.12">CREBBP</text>
<line x1="333.40" y1="602.10" x2="338.00" y2="602.10" stroke="#231f20" stroke-width="1.0"/>
<text x="314.00" y="605.10" font-size="8.5" text-anchor="start" fill="#231f20" textLength="18.00" lengthAdjust="spacingAndGlyphs" stroke="#231f20" stroke-width="0.12">TET2</text>
<line x1="411.26" y1="509.60" x2="506.72" y2="509.60" stroke="#333" stroke-width="1.0"/>
<line x1="411.26" y1="504.10" x2="411.26" y2="515.10" stroke="#333" stroke-width="1.0"/>
<line x1="506.72" y1="506.60" x2="506.72" y2="512.60" stroke="#1d4d7c" stroke-width="1.0"/>
<circle cx="345.40" cy="509.60" r="2.10" fill="#1d4d7c" stroke="none" stroke-width="0"/>
<circle cx="358.72" cy="509.60" r="2.10" fill="#1d4d7c" stroke="none" stroke-width="0"/>
<circle cx="431.24" cy="509.60" r="2.10" fill="#1d4d7c" stroke="none" stroke-width="0"/>
<circle cx="506.72" cy="509.60" r="2.10" fill="#1d4d7c" stroke="none" stroke-width="0"/>
<line x1="403.86" y1="528.10" x2="478.60" y2="528.10" stroke="#333" stroke-width="1.0"/>
<line x1="403.86" y1="522.60" x2="403.86" y2="533.60" stroke="#333" stroke-width="1.0"/>
<line x1="478.60" y1="525.10" x2="478.60" y2="531.10" stroke="#1d4d7c" stroke-width="1.0"/>
<circle cx="348.36" cy="528.10" r="2.10" fill="#1d4d7c" stroke="none" stroke-width="0"/>
<circle cx="382.40" cy="528.10" r="2.10" fill="#1d4d7c" stroke="none" stroke-width="0"/>
<circle cx="478.60" cy="528.10" r="2.10" fill="#1d4d7c" stroke="none" stroke-width="0"/>
<line x1="348.80" y1="541.80" x2="348.80" y2="551.40" stroke="#333" stroke-width="1.0"/>
<line x1="352.80" y1="543.60" x2="352.80" y2="549.60" stroke="#1d4d7c" stroke-width="1.0"/>
<circle cx="344.66" cy="546.60" r="2.10" fill="#1d4d7c" stroke="none" stroke-width="0"/>
<circle cx="353.24" cy="546.60" r="2.10" fill="#1d4d7c" stroke="none" stroke-width="0"/>
<line x1="348.36" y1="560.30" x2="348.36" y2="569.90" stroke="#333" stroke-width="1.0"/>
<line x1="352.06" y1="562.10" x2="352.06" y2="568.10" stroke="#1d4d7c" stroke-width="1.0"/>
<circle cx="344.22" cy="565.10" r="2.10" fill="#1d4d7c" stroke="none" stroke-width="0"/>
<circle cx="352.06" cy="565.10" r="2.10" fill="#1d4d7c" stroke="none" stroke-width="0"/>
<circle cx="346.58" cy="583.60" r="2.10" fill="#1d4d7c" stroke="none" stroke-width="0"/>
<circle cx="366.12" cy="602.10" r="2.10" fill="#1d4d7c" stroke="none" stroke-width="0"/>
<line x1="338.00" y1="614.30" x2="338.00" y2="617.80" stroke="#231f20" stroke-width="1.0"/>
<text x="338.00" y="628.00" font-size="8.2" text-anchor="middle" fill="#231f20" stroke="#231f20" stroke-width="0.12">0</text>
<line x1="367.60" y1="614.30" x2="367.60" y2="617.80" stroke="#231f20" stroke-width="1.0"/>
<text x="367.60" y="628.00" font-size="8.2" text-anchor="middle" fill="#231f20" stroke="#231f20" stroke-width="0.12">2</text>
<line x1="397.20" y1="614.30" x2="397.20" y2="617.80" stroke="#231f20" stroke-width="1.0"/>
<text x="397.20" y="628.00" font-size="8.2" text-anchor="middle" fill="#231f20" stroke="#231f20" stroke-width="0.12">4</text>
<line x1="426.80" y1="614.30" x2="426.80" y2="617.80" stroke="#231f20" stroke-width="1.0"/>
<text x="426.80" y="628.00" font-size="8.2" text-anchor="middle" fill="#231f20" stroke="#231f20" stroke-width="0.12">6</text>
<line x1="456.40" y1="614.30" x2="456.40" y2="617.80" stroke="#231f20" stroke-width="1.0"/>
<text x="456.40" y="628.00" font-size="8.2" text-anchor="middle" fill="#231f20" stroke="#231f20" stroke-width="0.12">8</text>
<line x1="486.00" y1="614.30" x2="486.00" y2="617.80" stroke="#231f20" stroke-width="1.0"/>
<text x="486.00" y="628.00" font-size="8.2" text-anchor="middle" fill="#231f20" stroke="#231f20" stroke-width="0.12">10</text>
<line x1="515.60" y1="614.30" x2="515.60" y2="617.80" stroke="#231f20" stroke-width="1.0"/>
<text x="515.60" y="628.00" font-size="8.2" text-anchor="middle" fill="#231f20" stroke="#231f20" stroke-width="0.12">12</text>
<text x="418.80" y="640.40" font-size="9.4" text-anchor="start" fill="#231f20" textLength="20.40" lengthAdjust="spacingAndGlyphs" stroke="#231f20" stroke-width="0.12">% VAF</text>
</svg>
</body></html>
